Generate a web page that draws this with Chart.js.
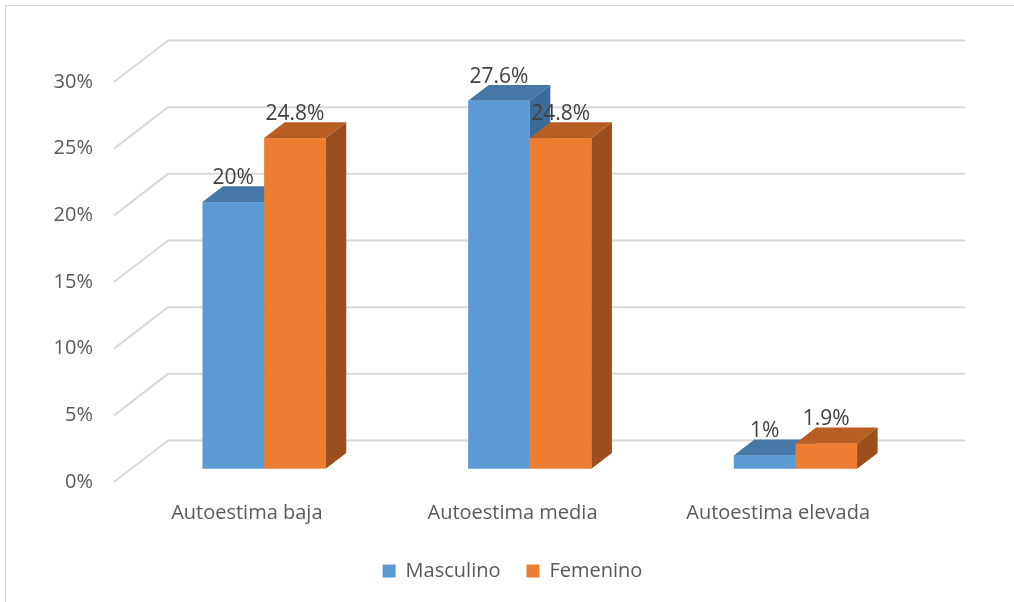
<!DOCTYPE html>
<html>
<head>
<meta charset="utf-8">
<script src="https://cdn.jsdelivr.net/npm/chart.js@4/dist/chart.umd.min.js"></script>
<style>
  body { margin: 0; background: #fff; }
  #chart { display: block; }
</style>
</head>
<body>
<canvas id="chart" width="1014" height="602"></canvas>
<script>
// Chart data
var categories = ['Autoestima baja', 'Autoestima media', 'Autoestima elevada'];
var seriesNames = ['Masculino', 'Femenino'];
var masculino = [20, 27.6, 1];
var femenino = [24.8, 24.8, 1.9];
var valueLabels = [['20%', '27.6%', '1%'], ['24.8%', '24.8%', '1.9%']];
var yTicks = [0, 5, 10, 15, 20, 25, 30];

// Colors: front, top, side
var colors = {
    blue: { front: '#5b9bd5', top: '#4677a6', side: '#3d6b97' },
    orange: { front: '#ed7d31', top: '#b95e23', side: '#9b4f1e' }
};
var seriesColors = [colors.blue, colors.orange];

// 3D geometry: depth of the floor and position of the bars inside it
var DEPTH_X = 54, DEPTH_Y = -41.5;
var BAR_START = 0.32, BAR_DEPTH = 0.38;

var fontFamily = '"Open Sans", sans-serif';

var threeD = {
    id: 'threeD',
    beforeDraw: function (chart) {
        var ctx = chart.ctx;
        ctx.save();
        ctx.strokeStyle = '#d9d9d9';
        ctx.lineWidth = 1;
        ctx.strokeRect(5.5, 5.5, 1100, 700);
        ctx.restore();
    },
    beforeDatasetsDraw: function (chart) {
        var ctx = chart.ctx;
        var area = chart.chartArea;
        var yScale = chart.scales.y;

        // back wall grid lines with their diagonal on the side wall
        ctx.save();
        ctx.strokeStyle = '#d9d9d9';
        ctx.lineWidth = 2;
        yTicks.forEach(function (v) {
            var y = yScale.getPixelForValue(v);
            ctx.beginPath();
            ctx.moveTo(area.left, y);
            ctx.lineTo(area.left + DEPTH_X, y + DEPTH_Y);
            ctx.lineTo(area.right + DEPTH_X, y + DEPTH_Y);
            ctx.stroke();
        });
        ctx.restore();

        // boxes
        var sx = BAR_START * DEPTH_X, sy = BAR_START * DEPTH_Y;
        var dx = BAR_DEPTH * DEPTH_X, dy = BAR_DEPTH * DEPTH_Y;
        ctx.save();
        for (var i = 0; i < categories.length; i++) {
            for (var d = 0; d < chart.data.datasets.length; d++) {
                var el = chart.getDatasetMeta(d).data[i];
                var c = seriesColors[d];
                var x0 = el.x - el.width / 2 + sx, x1 = el.x + el.width / 2 + sx;
                var yT = el.y + sy, yB = el.base + sy;

                ctx.fillStyle = c.front;
                ctx.fillRect(x0, yT, x1 - x0, yB - yT);

                ctx.fillStyle = c.top;
                ctx.beginPath();
                ctx.moveTo(x0, yT);
                ctx.lineTo(x0 + dx, yT + dy);
                ctx.lineTo(x1 + dx, yT + dy);
                ctx.lineTo(x1, yT);
                ctx.closePath();
                ctx.fill();

                ctx.fillStyle = c.side;
                ctx.beginPath();
                ctx.moveTo(x1, yT);
                ctx.lineTo(x1 + dx, yT + dy);
                ctx.lineTo(x1 + dx, yB + dy);
                ctx.lineTo(x1, yB);
                ctx.closePath();
                ctx.fill();
            }
        }
        ctx.restore();

        // value labels
        ctx.save();
        ctx.font = '21px ' + fontFamily;
        ctx.fillStyle = '#404040';
        ctx.textAlign = 'center';
        ctx.textBaseline = 'middle';
        for (var d2 = 0; d2 < chart.data.datasets.length; d2++) {
            chart.getDatasetMeta(d2).data.forEach(function (el, j) {
                ctx.fillText(valueLabels[d2][j], el.x + sx, el.y + sy - 24);
            });
        }
        ctx.restore();
        return false;
    }
};

new Chart(document.getElementById('chart').getContext('2d'), {
    type: 'bar',
    data: {
        labels: categories,
        datasets: [{
            label: seriesNames[0],
            data: masculino,
            backgroundColor: colors.blue.front
        }, {
            label: seriesNames[1],
            data: femenino,
            backgroundColor: colors.orange.front
        }]
    },
    options: {
        responsive: false,
        animation: false,
        devicePixelRatio: 1,
        categoryPercentage: 0.464,
        barPercentage: 1.0,
        layout: { padding: { left: 0, right: 103, top: 82, bottom: 11 } },
        scales: {
            x: {
                grid: { display: false },
                border: { display: false },
                ticks: { color: '#595959', font: { family: fontFamily, size: 20 }, padding: 11 },
                afterFit: function (scale) { scale.height = 53; }
            },
            y: {
                min: 0,
                max: 30,
                grid: { display: false },
                border: { display: false },
                ticks: {
                    stepSize: 5,
                    color: '#595959',
                    font: { family: fontFamily, size: 20 },
                    padding: 13,
                    callback: function (v) { return v + '%'; }
                },
                afterFit: function (scale) { scale.width = 114; }
            }
        },
        plugins: {
            legend: {
                position: 'bottom',
                fullSize: false,
                labels: {
                    boxWidth: 13,
                    boxHeight: 13,
                    padding: 26,
                    color: '#595959',
                    font: { family: fontFamily, size: 20 }
                }
            },
            tooltip: { enabled: false }
        }
    },
    plugins: [threeD]
});
</script>
</body>
</html>
